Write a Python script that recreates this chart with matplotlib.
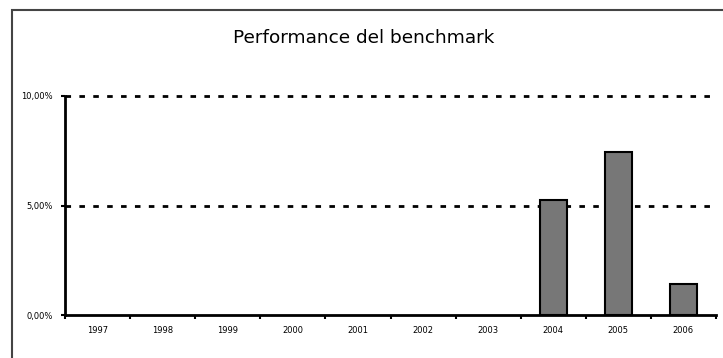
import matplotlib
matplotlib.use("Agg")
import matplotlib.pyplot as plt
from matplotlib.patches import Rectangle

years = ["1997", "1998", "1999", "2000", "2001", "2002", "2003", "2004", "2005", "2006"]
perf = [0, 0, 0, 0, 0, 0, 0, 5.25, 7.45, 1.42]
y_ticks = [0, 5, 10]
y_labels = ["0,00%", "5,00%", "10,00%"]

fig = plt.figure(figsize=(7.23, 3.58), dpi=100)
fig.patches.append(Rectangle((12 / 723, -0.1), 1.2, 1 - 10 / 358 + 0.1, transform=fig.transFigure,
                             fill=False, edgecolor="#444444", linewidth=1.5))

ax = fig.add_axes([65 / 723, 1 - 315 / 358, (716 - 65) / 723, (315 - 96) / 358])
x = list(range(len(years)))
edge_w = [1.5 if v > 0 else 0 for v in perf]
ax.bar(x, perf, width=0.42, color="#777777", edgecolor="black", linewidth=edge_w, zorder=3)

ax.set_xlim(-0.5, len(years) - 0.5)
ax.set_ylim(0, 10)
for y in [5, 10]:
    ax.axhline(y, color="black", linestyle=(0, (2, 3)), linewidth=2, zorder=1, clip_on=False)

ax.spines["top"].set_visible(False)
ax.spines["right"].set_visible(False)
ax.spines["left"].set_linewidth(2)
ax.spines["bottom"].set_linewidth(2)

ax.set_yticks(y_ticks)
ax.set_yticklabels(y_labels, fontsize=6)
ax.tick_params(axis="y", length=3, width=1.5, pad=6)

ax.set_xticks(x)
ax.set_xticklabels(years, fontsize=6)
ax.tick_params(axis="x", length=0, pad=8)
ax.set_xticks([i - 0.5 for i in range(len(years) + 1)], minor=True)
ax.tick_params(axis="x", which="minor", length=3, width=1.5, direction="out")

fig.text(364 / 723, 1 - 38 / 358, "Performance del benchmark", ha="center", va="center", fontsize=13.3)

fig.savefig("out.png", dpi=100)
